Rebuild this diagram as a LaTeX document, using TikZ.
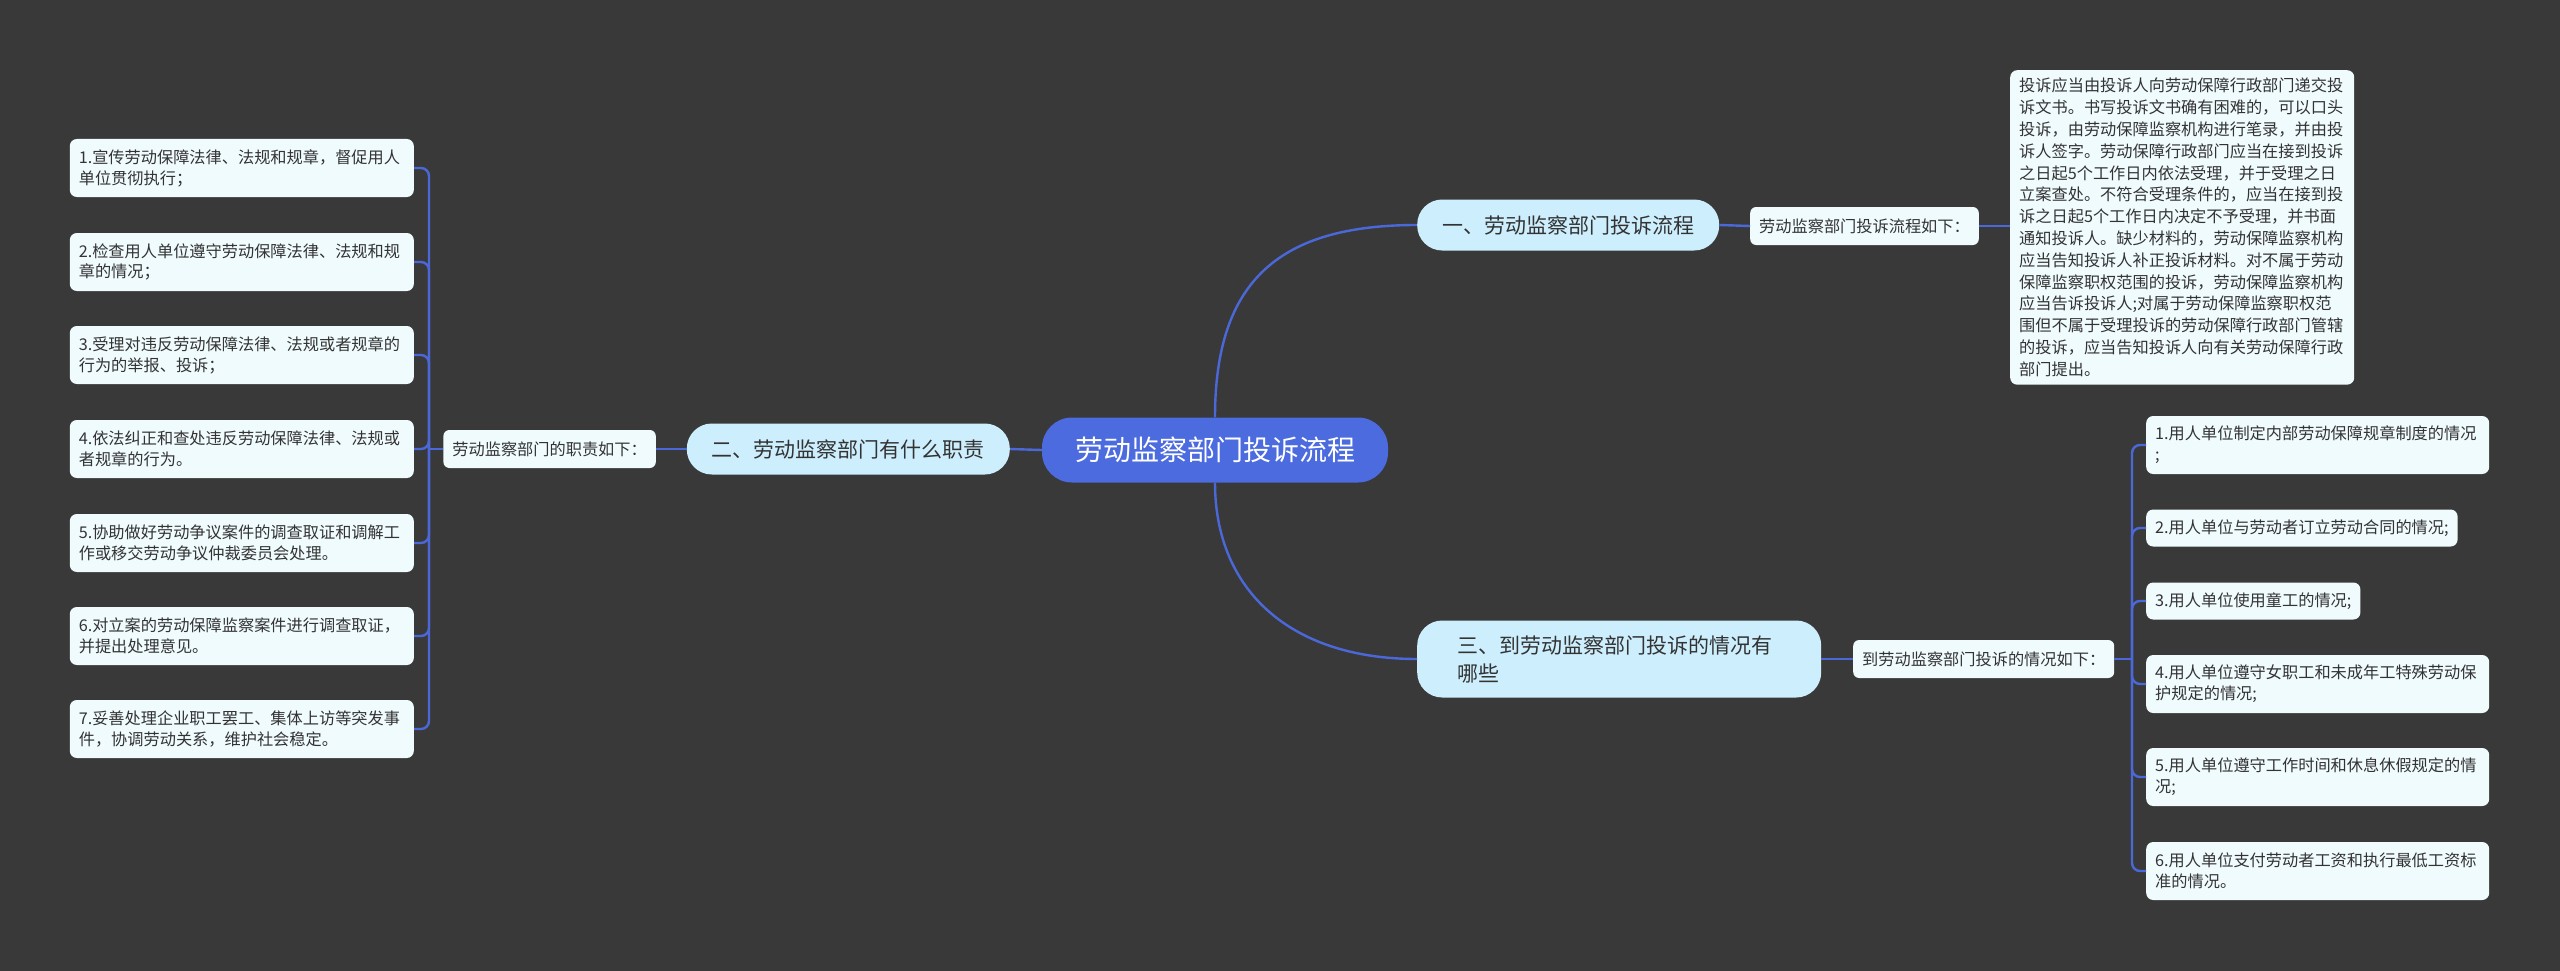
\documentclass[tikz,border=0pt]{standalone}
\usepackage{fontspec}
\setmainfont{Noto Sans CJK SC}
\definecolor{bgcol}{HTML}{393939}
\definecolor{linecol}{HTML}{4B68D8}
\definecolor{rootfill}{HTML}{4B6BDF}
\definecolor{brfill}{HTML}{CDEFFD}
\definecolor{leaffill}{HTML}{F0FBFE}
\definecolor{txt}{HTML}{333333}
\tikzset{
  conn/.style={draw=linecol, line width=2.4pt},
  leafbox/.style={fill=leaffill, rounded corners=7pt, text=txt, font=\fontsize{16.2}{20.8}\selectfont, align=left, inner xsep=9pt, inner ysep=4pt},
  subbox/.style={fill=leaffill, rounded corners=6pt, text=txt, font=\fontsize{16.2}{20.8}\selectfont, inner xsep=9pt, inner ysep=4pt, minimum height=38pt},
  brbox/.style={fill=brfill, rounded corners=25pt, text=txt, font=\fontsize{21}{28}\selectfont, inner xsep=25pt, inner ysep=4pt, minimum height=51pt},
  rootbox/.style={fill=rootfill, rounded corners=30pt, text=white, font=\fontsize{28}{34}\selectfont, inner xsep=33pt, inner ysep=4pt, minimum height=65pt},
  lleaf/.style={leafbox, text width=326pt, anchor=east},
  rleaf/.style={leafbox, anchor=west}
}
\begin{document}
\begin{tikzpicture}[x=1pt,y=-1pt]
\fill[bgcol] (0,0) rectangle (2560,971);
\useasboundingbox (0,0) rectangle (2560,971);

% root
\node[rootbox] (root) at (1215,450) {劳动监察部门投诉流程};

% branches
\node[brbox, anchor=west] (b1) at (1417,225) {一、劳动监察部门投诉流程};
\node[brbox, anchor=east] (b2) at (1010,449) {二、劳动监察部门有什么职责};
\node[brbox, anchor=west, text width=324pt, align=left, inner xsep=40pt, minimum height=77pt] (b3) at (1417,659) {三、到劳动监察部门投诉的情况有\\哪些};

% sub nodes
\node[subbox, anchor=west] (s1) at (1750,226) {劳动监察部门投诉流程如下：};
\node[subbox, anchor=east] (s2) at (656,449) {劳动监察部门的职责如下：};
\node[subbox, anchor=west] (s3) at (1853,659) {到劳动监察部门投诉的情况如下：};

% big leaf
\node[leafbox, anchor=north west, text width=326pt, font=\fontsize{16.2}{21.8}\selectfont, inner ysep=8pt, minimum height=311pt] (big) at (2010,70) {投诉应当由投诉人向劳动保障行政部门递交投\\诉文书。书写投诉文书确有困难的，可以口头\\投诉，由劳动保障监察机构进行笔录，并由投\\诉人签字。劳动保障行政部门应当在接到投诉\\之日起5个工作日内依法受理，并于受理之日\\立案查处。不符合受理条件的，应当在接到投\\诉之日起5个工作日内决定不予受理，并书面\\通知投诉人。缺少材料的，劳动保障监察机构\\应当告知投诉人补正投诉材料。对不属于劳动\\保障监察职权范围的投诉，劳动保障监察机构\\应当告诉投诉人;对属于劳动保障监察职权范\\围但不属于受理投诉的劳动保障行政部门管辖\\的投诉，应当告知投诉人向有关劳动保障行政\\部门提出。};

% left leaves
\node[lleaf, minimum height=58pt] (l1) at (414,168) {1.宣传劳动保障法律、法规和规章，督促用人\\单位贯彻执行；};
\node[lleaf, minimum height=58pt] (l2) at (414,262) {2.检查用人单位遵守劳动保障法律、法规和规\\章的情况；};
\node[lleaf, minimum height=58pt] (l3) at (414,355) {3.受理对违反劳动保障法律、法规或者规章的\\行为的举报、投诉；};
\node[lleaf, minimum height=58pt] (l4) at (414,449) {4.依法纠正和查处违反劳动保障法律、法规或\\者规章的行为。};
\node[lleaf, minimum height=58pt] (l5) at (414,543) {5.协助做好劳动争议案件的调查取证和调解工\\作或移交劳动争议仲裁委员会处理。};
\node[lleaf, minimum height=58pt] (l6) at (414,636) {6.对立案的劳动保障监察案件进行调查取证，\\并提出处理意见。};
\node[lleaf, minimum height=58pt] (l7) at (414,729) {7.妥善处理企业职工罢工、集体上访等突发事\\件，协调劳动关系，维护社会稳定。};

% right leaves
\node[rleaf, text width=325pt, minimum height=58pt] (r1) at (2146,445) {1.用人单位制定内部劳动保障规章制度的情况\\;};
\node[rleaf, minimum height=37pt] (r2) at (2146,528) {2.用人单位与劳动者订立劳动合同的情况;};
\node[rleaf, minimum height=37pt] (r3) at (2146,601) {3.用人单位使用童工的情况;};
\node[rleaf, text width=325pt, minimum height=58pt] (r4) at (2146,684) {4.用人单位遵守女职工和未成年工特殊劳动保\\护规定的情况;};
\node[rleaf, text width=325pt, minimum height=58pt] (r5) at (2146,777) {5.用人单位遵守工作时间和休息休假规定的情\\况;};
\node[rleaf, text width=325pt, minimum height=58pt] (r6) at (2146,871) {6.用人单位支付劳动者工资和执行最低工资标\\准的情况。};

% junctions
\coordinate (jl) at (429,449);
\coordinate (jr) at (2132,659);

% connectors from root
\draw[conn] (root.north) .. controls (1215,280) and (1280,225) .. (b1.west);
\draw[conn] (root.south) .. controls (1215,590) and (1290,659) .. (b3.west);
\draw[conn] (root.west) -- (b2.east);

% branch to sub
\draw[conn] (b1.east) -- (s1.west);
\draw[conn] (b2.west) -- (s2.east);
\draw[conn] (b3.east) -- (s3.west);
\draw[conn] (s1.east) -- (s1.east -| big.west);

% brackets
\draw[conn] (s2.west) -- (jl);
\foreach \n in {l1,l2,l3,l4,l5,l6,l7} {
  \draw[conn, rounded corners=8pt] (jl) |- (\n.east);
}
\draw[conn] (s3.east) -- (jr);
\foreach \n in {r1,r2,r3,r4,r5,r6} {
  \draw[conn, rounded corners=8pt] (jr) |- (\n.west);
}
\end{tikzpicture}
\end{document}
